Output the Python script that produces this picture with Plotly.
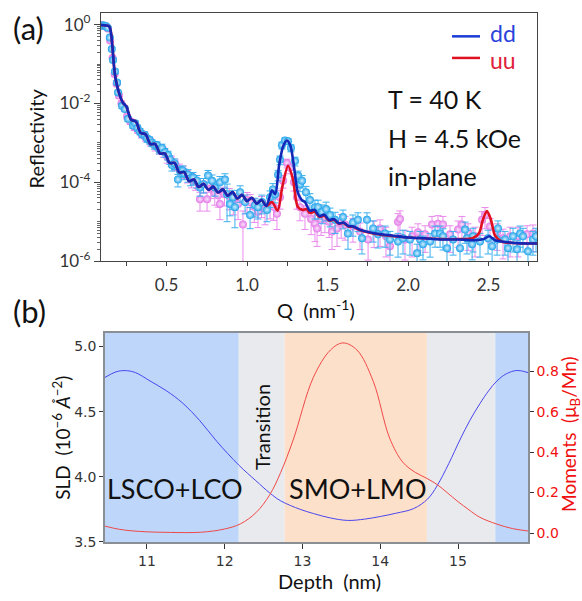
import plotly.graph_objects as go

W, H = 582, 601

# ---------------- panel (a): reflectivity data (log10 R) ----------------
dd_q = [0.095,0.105,0.115,0.125,0.135,0.148,0.160,0.168,0.180,0.193,0.199,0.224,0.242,0.261,0.292,0.305,0.320,0.335,0.350,0.365,
        0.379,0.395,0.410,0.425,0.441,0.455,0.472,0.490,0.509,0.520,0.534,0.550,0.571,0.584,0.600,0.610,0.634,0.650,0.665,0.689,
        0.708,0.730,0.758,0.783,0.801,0.832,0.863,0.876,0.894,0.913,0.925,0.957,0.988,1.019,1.050,1.068,1.093,1.124,1.143,1.161,
        1.174,1.193,1.205,1.217,1.236,1.255,1.273,1.298,1.317,1.329,1.342,1.366,1.391,1.422,1.441,1.466,1.491,1.516,1.547,1.596,
        1.627,1.658,1.689,1.714,1.745,1.783,1.814,1.857,1.888,1.938,1.969,2.012,2.056,2.075,2.093,2.137,2.168,2.199,2.217,2.242,
        2.280,2.323,2.354,2.366,2.398,2.404,2.447,2.497,2.522,2.553,2.559,2.602,2.621,2.652,2.677,2.696,2.714,2.745,2.776,2.795]
dd_logr = [-0.02,-0.02,-0.03,-0.04,-0.08,-0.33,-0.62,-0.90,-1.19,-1.47,-1.72,-2.06,-2.14,-2.39,-2.56,-2.50,-2.62,-2.71,-2.78,-2.80,
           -2.89,-2.93,-3.00,-3.05,-3.06,-3.17,-3.13,-3.24,-3.31,-3.42,-3.56,-3.52,-3.93,-3.71,-3.70,-3.78,-3.81,-3.90,-3.88,-3.96,
           -4.13,-4.05,-3.83,-3.96,-4.13,-4.00,-3.93,-4.30,-4.55,-4.38,-4.63,-4.25,-4.50,-4.83,-4.58,-4.63,-4.50,-4.70,-4.38,-4.18,
           -4.30,-3.81,-3.43,-3.06,-2.94,-2.96,-3.13,-3.46,-3.83,-4.05,-3.96,-4.25,-4.45,-4.63,-4.63,-4.75,-4.68,-4.83,-4.95,-4.88,
           -5.30,-5.02,-4.95,-5.42,-4.95,-5.17,-5.32,-5.30,-5.45,-5.50,-5.42,-5.45,-5.80,-5.45,-5.57,-5.50,-5.30,-5.30,-5.37,-5.67,
           -5.45,-5.67,-5.20,-5.42,-5.57,-5.37,-5.50,-5.42,-5.62,-5.45,-5.17,-5.45,-5.67,-5.37,-5.70,-5.30,-5.37,-5.75,-5.45,-5.37]
dd_relerr = [0.05,0.05,0.05,0.05,0.06,0.08,0.10,0.10,0.12,0.12,0.12,0.15,0.15,0.15,0.15,0.15,0.18,0.18,0.18,0.20,
             0.20,0.20,0.20,0.22,0.22,0.22,0.25,0.25,0.25,0.25,0.30,0.30,0.35,0.30,0.30,0.30,0.35,0.35,0.35,0.35,
             0.40,0.40,0.35,0.40,0.40,0.40,0.40,0.80,0.50,0.50,0.70,0.45,0.50,0.55,0.50,0.50,0.50,0.50,0.45,0.40,
             0.40,0.30,0.25,0.20,0.15,0.15,0.20,0.25,0.30,0.35,0.35,0.40,0.45,0.50,0.50,0.50,0.50,0.50,0.55,0.50,
             0.60,0.55,0.50,0.60,0.50,0.55,0.55,0.55,0.60,0.60,0.60,0.60,0.70,0.60,0.60,0.60,0.55,0.55,0.55,0.65,
             0.60,0.65,0.55,0.60,0.60,0.60,0.60,0.60,0.65,0.60,0.55,0.60,0.65,0.60,0.65,0.55,0.60,0.65,0.60,0.60]

uu_q = [0.095,0.105,0.115,0.125,0.135,0.150,0.165,0.178,0.190,0.205,0.220,0.238,0.255,0.275,0.300,0.320,0.345,0.370,0.400,0.430,
        0.455,0.480,0.505,0.530,0.555,0.580,0.605,0.630,0.655,0.680,0.708,0.730,0.752,0.775,0.800,0.820,0.832,0.860,0.890,0.915,
        0.944,0.975,1.000,1.019,1.045,1.068,1.090,1.112,1.143,1.165,1.186,1.205,1.224,1.248,1.267,1.292,1.310,1.329,1.360,1.398,
        1.422,1.435,1.460,1.484,1.510,1.528,1.559,1.585,1.609,1.658,1.702,1.752,1.789,1.826,1.863,1.888,1.938,1.950,1.981,2.025,
        2.062,2.106,2.149,2.186,2.217,2.261,2.311,2.335,2.373,2.416,2.460,2.478,2.509,2.553,2.590,2.634,2.683,2.739,2.776]
uu_logr = [-0.02,-0.02,-0.03,-0.05,-0.10,-0.40,-0.85,-1.25,-1.50,-1.80,-2.00,-2.12,-2.33,-2.45,-2.60,-2.66,-2.78,-2.86,-2.97,-3.08,
           -3.16,-3.22,-3.36,-3.45,-3.55,-3.67,-3.72,-3.83,-3.92,-3.98,-4.43,-4.05,-4.43,-4.15,-4.28,-4.33,-4.55,-4.30,-4.35,-4.48,
           -4.55,-5.07,-4.45,-4.50,-4.62,-4.75,-4.55,-4.68,-4.58,-4.62,-4.80,-4.38,-3.96,-3.51,-3.63,-4.00,-4.38,-4.63,-4.80,-4.93,
           -5.05,-5.17,-4.95,-4.88,-5.00,-5.25,-5.17,-5.02,-5.07,-5.12,-5.25,-5.45,-5.20,-5.17,-5.37,-5.62,-5.00,-4.93,-5.45,-5.37,
           -5.27,-5.32,-5.07,-5.05,-5.07,-5.32,-5.20,-5.07,-5.27,-5.37,-4.95,-4.83,-5.12,-5.27,-5.42,-5.37,-5.37,-5.32,-5.30]
uu_relerr = [0.05,0.05,0.05,0.05,0.06,0.08,0.10,0.12,0.12,0.15,0.15,0.15,0.15,0.18,0.18,0.20,0.20,0.20,0.22,0.25,
             0.25,0.28,0.30,0.30,0.30,0.35,0.35,0.35,0.40,0.40,0.50,0.40,0.50,0.45,0.50,0.50,0.60,0.50,0.55,0.55,
             0.60,1.20,0.55,0.55,0.60,0.60,0.55,0.60,0.55,0.55,0.60,0.50,0.35,0.25,0.30,0.40,0.50,0.55,0.60,0.60,
             0.65,0.65,0.60,0.60,0.60,0.65,0.65,0.60,0.60,0.60,0.65,0.70,0.65,0.65,0.70,0.75,0.60,0.60,0.70,0.70,
             0.65,0.65,0.60,0.60,0.60,0.65,0.65,0.60,0.65,0.70,0.60,0.55,0.60,0.65,0.70,0.70,0.70,0.65,0.65]

# fitted curves (log10 R); low-Q part is common to dd and uu
fit_low_q = [0.093,0.12,0.145,0.155,0.165,0.175,0.185,0.200,0.215,0.230,0.25,0.28,0.31,0.34,0.37,0.40,0.43,0.46,0.49,0.52,
             0.55,0.58,0.61,0.64,0.67,0.70,0.73,0.76,0.79,0.82,0.85,0.88,0.91,0.94,0.97,1.00,1.03,1.06,1.09,1.12]
fit_low_logr = [-0.01,-0.02,-0.05,-0.20,-0.60,-1.10,-1.40,-1.66,-1.85,-1.99,-2.07,-2.41,-2.46,-2.75,-2.78,-3.03,-3.03,-3.27,-3.27,-3.51,
                -3.51,-3.75,-3.74,-3.97,-3.93,-4.12,-4.04,-4.19,-4.11,-4.26,-4.18,-4.34,-4.25,-4.41,-4.32,-4.48,-4.39,-4.54,-4.45,-4.60]
dd_fit_q = [1.155,1.175,1.20,1.225,1.248,1.27,1.29,1.315,1.34,1.36,1.39,1.42,1.45,1.48,1.51,1.54,1.57,1.60,1.63,1.66,
            1.70,1.80,1.90,2.00,2.10,2.20,2.32,2.42,2.47,2.505,2.54,2.58,2.70,2.81]
dd_fit_logr = [-4.20,-4.30,-3.55,-3.08,-2.94,-3.08,-3.55,-4.25,-4.45,-4.50,-4.72,-4.70,-4.86,-4.82,-4.96,-4.93,-5.04,-5.02,-5.11,-5.12,
               -5.20,-5.30,-5.35,-5.40,-5.42,-5.45,-5.45,-5.47,-5.44,-5.37,-5.47,-5.50,-5.55,-5.55]
uu_fit_q = [1.155,1.19,1.22,1.255,1.285,1.315,1.345,1.37,1.39,1.42,1.45,1.48,1.51,1.54,1.57,1.60,1.63,1.66,1.70,1.80,
            1.90,2.00,2.10,2.20,2.32,2.40,2.44,2.465,2.49,2.515,2.54,2.58,2.70,2.81]
uu_fit_logr = [-4.50,-4.72,-4.10,-3.58,-3.92,-4.62,-4.70,-4.68,-4.78,-4.75,-4.88,-4.85,-4.97,-4.95,-5.05,-5.03,-5.12,-5.13,-5.21,-5.31,
               -5.36,-5.40,-5.42,-5.44,-5.44,-5.42,-5.30,-4.95,-4.73,-4.95,-5.35,-5.50,-5.55,-5.55]

# ---------------- panel (b): depth profiles ----------------
sld_depth = [10.46,10.60,10.72,10.85,11.04,11.25,11.46,11.68,11.90,12.18,12.40,12.58,12.72,12.97,13.14,13.35,13.58,13.80,14.00,14.20,
             14.43,14.61,14.73,14.88,15.03,15.15,15.28,15.40,15.50,15.62,15.76,15.90]
sld = [4.763,4.805,4.815,4.80,4.735,4.66,4.565,4.43,4.27,4.09,3.97,3.875,3.815,3.75,3.718,3.685,3.665,3.675,3.695,3.72,
       3.756,3.83,3.93,4.10,4.29,4.43,4.56,4.665,4.735,4.79,4.816,4.80]
mom_depth = [10.46,10.65,10.90,11.30,11.70,12.00,12.20,12.40,12.58,12.72,12.88,13.14,13.36,13.52,13.70,13.91,14.12,14.29,14.45,14.60,
             14.73,14.86,15.00,15.14,15.28,15.50,15.70,15.90]
moment = [0.034,0.018,0.008,0.003,0.004,0.02,0.045,0.10,0.19,0.30,0.46,0.77,0.905,0.94,0.905,0.75,0.47,0.35,0.30,0.27,
          0.24,0.20,0.155,0.115,0.078,0.044,0.022,0.01]
region_edges = [10.46, 12.18, 12.77, 14.60, 15.48, 15.90]
region_colors = ["#bdd6fa", "#e8eaed", "#fde0ca", "#e8eaed", "#bdd6fa"]

# ---------------- helpers ----------------
def px(x, y):
    return x / W, 1 - y / H

def to_r(v):
    return [10 ** a for a in v]

CAL = "Lato, Carlito, Calibri, sans-serif"
DJ = "DejaVu Sans"

fig = go.Figure()

def data_trace(q, logr, rel, col, ecol, gcol):
    r = to_r(logr)
    err = [a * b for a, b in zip(r, rel)]
    return go.Scatter(x=q, y=r, mode="markers", xaxis="x", yaxis="y",
                      marker=dict(size=8, color=col, line=dict(width=0),
                                  gradient=dict(type="radial", color=gcol)),
                      error_y=dict(type="data", array=err, color=ecol, thickness=1, width=3.5),
                      showlegend=False, hoverinfo="skip")

fig.add_trace(data_trace(uu_q, uu_logr, uu_relerr, "#e27ae6", "#e98aec", "#fbe3fc"))
fig.add_trace(data_trace(dd_q, dd_logr, dd_relerr, "#1fa3ea", "#3bb0ee", "#d6f0ff"))

fig.add_trace(go.Scatter(x=fit_low_q + uu_fit_q, y=to_r(fit_low_logr + uu_fit_logr), mode="lines",
                         line=dict(color="#e01020", width=2.6, shape="spline", smoothing=0.8),
                         xaxis="x", yaxis="y", showlegend=False, hoverinfo="skip"))
fig.add_trace(go.Scatter(x=fit_low_q + dd_fit_q, y=to_r(fit_low_logr + dd_fit_logr), mode="lines",
                         line=dict(color="#1428b8", width=2.6, shape="spline", smoothing=0.8),
                         xaxis="x", yaxis="y", showlegend=False, hoverinfo="skip"))

# panel b curves
fig.add_trace(go.Scatter(x=sld_depth, y=sld, mode="lines", line=dict(color="#4a46ee", width=1, shape="spline"),
                         xaxis="x2", yaxis="y2", showlegend=False, hoverinfo="skip"))
fig.add_trace(go.Scatter(x=mom_depth, y=moment, mode="lines", line=dict(color="#f04848", width=1, shape="spline"),
                         xaxis="x2", yaxis="y3", showlegend=False, hoverinfo="skip"))

shapes = []
for i, c in enumerate(region_colors):
    shapes.append(dict(type="rect", xref="x2", yref="y2 domain", x0=region_edges[i], x1=region_edges[i + 1],
                       y0=0, y1=1, fillcolor=c, line=dict(width=0), layer="below"))

# legend line samples
for yy, c in [(36, "#1a3bd6"), (58, "#e01020")]:
    x0, y0 = px(452, yy)
    x1, _ = px(480, yy)
    shapes.append(dict(type="line", xref="paper", yref="paper", x0=x0, x1=x1, y0=y0, y1=y0,
                       line=dict(color=c, width=2.5)))

ann = []
def add_text(x, y, t, size, color="#111", font=CAL, xanchor="center", angle=0, yanchor="middle"):
    fx, fy = px(x, y)
    ann.append(dict(x=fx, y=fy, xref="paper", yref="paper", text=t, showarrow=False,
                    xanchor=xanchor, yanchor=yanchor, textangle=angle, borderpad=0,
                    font=dict(family=font, size=size, color=color)))

add_text(28, 27, "(a)", 31)
add_text(29, 316, "(b)", 31)
add_text(489, 48, "dd", 23, color="#2c44dc", xanchor="left", yanchor="bottom")
add_text(489, 45, "uu", 23, color="#e0203a", xanchor="left", yanchor="top")
add_text(387, 100, "T = 40 K", 25, xanchor="left")
add_text(387, 140, "H = 4.5 kOe", 25, xanchor="left")
add_text(387, 178, "in-plane", 25, xanchor="left")
add_text(36, 140, "Reflectivity", 20, angle=-90)
add_text(316, 314, "Q  (nm<sup>-1</sup>)", 20)
add_text(175, 497, "LSCO+LCO", 27)
add_text(358, 497, "SMO+LMO", 27)
add_text(262, 434, "Transition", 20, angle=-90)
add_text(329, 591, "Depth  (nm)", 20)
add_text(62, 445, "SLD  (10<sup>−6</sup> <i>Å</i><sup>−2</sup>)", 19, angle=-90)
add_text(570, 441, "Moments  (μ<sub>B</sub>/Mn)", 19, color="#f01010", angle=-90)

# axes
ax_a_x = [101 / W, 537 / W]
ax_a_y = [1 - 265 / H, 1 - 12 / H]
ax_b_x = [105 / W, 528 / W]
ax_b_y = [1 - 551 / H, 1 - 338 / H]

q_ticks = [0.25, 0.5, 0.75, 1.0, 1.25, 1.5, 1.75, 2.0, 2.25, 2.5, 2.75]
q_labels = ["", "0.5", "", "1.0", "", "1.5", "", "2.0", "", "2.5", ""]
r_ticks = [1, 1e-2, 1e-4, 1e-6]
r_labels = ["10<sup>0</sup>", "10<sup>-2</sup>", "10<sup>-4</sup>", "10<sup>-6</sup>"]
r_minor = [m * 10 ** e for e in range(-6, 1) for m in range(1, 10) if not (m == 1 and e % 2 == 0)]

fig.update_layout(
    width=W, height=H, margin=dict(l=0, r=0, t=0, b=0),
    paper_bgcolor="white", plot_bgcolor="white",
    xaxis=dict(domain=ax_a_x, range=[0.0932, 2.801], anchor="y", tickmode="array", tickvals=q_ticks,
               ticktext=q_labels, ticks="outside", ticklen=4, tickcolor="#444", showline=True, linecolor="#444",
               linewidth=1.2, mirror=True, showgrid=False, zeroline=False, ticklabelstandoff=4,
               tickfont=dict(family=CAL, size=17, color="#333")),
    yaxis=dict(domain=ax_a_y, type="log", range=[-6, 0.3], anchor="x", tickmode="array", tickvals=r_ticks,
               ticktext=r_labels, ticks="outside", ticklen=6, tickcolor="#444", showline=True, linecolor="#444",
               linewidth=1.2, mirror=True, showgrid=False, zeroline=False,
               minor=dict(tickmode="array", tickvals=r_minor, ticks="outside", ticklen=3, tickcolor="#666", showgrid=False),
               tickfont=dict(family=CAL, size=17, color="#333")),
    xaxis2=dict(domain=ax_b_x, range=[10.46, 15.9], anchor="y2", tickvals=[11, 12, 13, 14, 15],
                ticks="outside", ticklen=5, tickcolor="#333", showline=True, linecolor="#8a8f96", linewidth=1.5,
                mirror=True, showgrid=False, zeroline=False, ticklabelstandoff=1,
                tickfont=dict(family=DJ, size=14, color="#333")),
    yaxis2=dict(domain=ax_b_y, range=[3.5, 5.105], anchor="x2", tickvals=[3.5, 4.0, 4.5, 5.0],
                ticktext=["3.5", "4.0", "4.5", "5.0"],
                ticks="outside", ticklen=4, tickcolor="#333", showline=True, linecolor="#8a8f96", linewidth=1.5,
                showgrid=False, zeroline=False,
                tickfont=dict(family=DJ, size=14, color="#333")),
    yaxis3=dict(domain=ax_b_y, range=[-0.044, 0.99], anchor="x2", overlaying="y2", side="right",
                tickvals=[0, 0.2, 0.4, 0.6, 0.8], ticktext=["0.0", "0.2", "0.4", "0.6", "0.8"],
                ticks="outside", ticklen=4, tickcolor="#333", showline=True, linecolor="#8a8f96", linewidth=1.5,
                showgrid=False, zeroline=False,
                tickfont=dict(family=DJ, size=14, color="#f01010")),
    shapes=shapes, annotations=ann,
)

fig.write_html("out.html")
